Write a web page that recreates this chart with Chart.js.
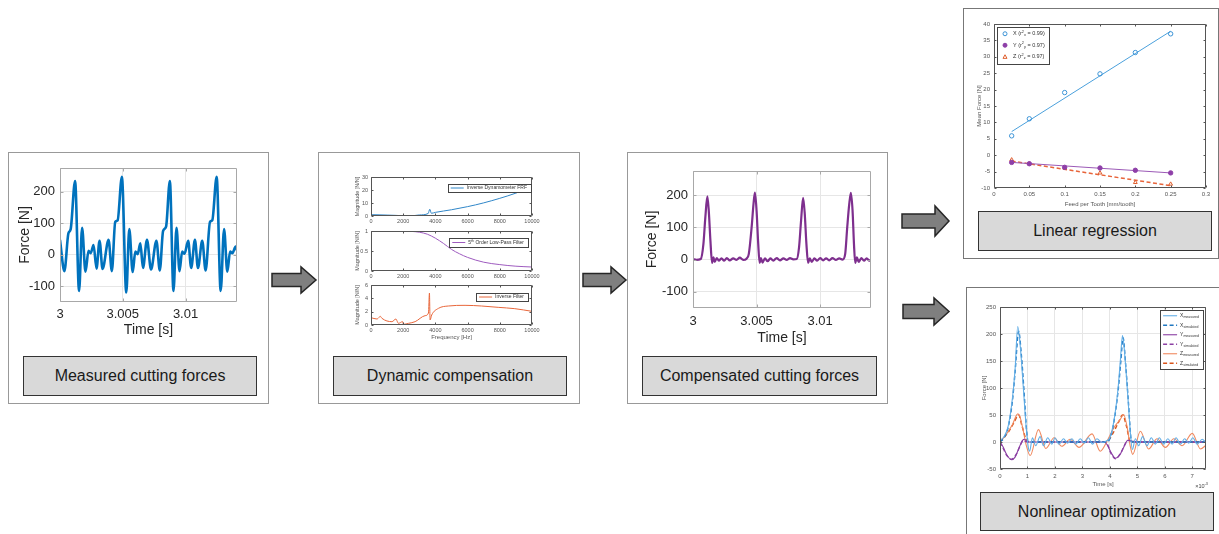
<!DOCTYPE html>
<html lang="en">
<head>
<meta charset="UTF-8" />
<title>Cutting force identification workflow</title>
<script src="https://cdn.jsdelivr.net/npm/chart.js"></script>
<style>
  body { margin: 0; background: #fff; font-family: 'Liberation Sans', Arial, sans-serif; }
  #page { position: relative; width: 1219px; height: 534px; overflow: hidden; background: #fff; }
  .panel { position: absolute; box-sizing: border-box; border: 1px solid #999; background: #fff; }
  .dark { border-color: #777; }
  .lbl { position: absolute; box-sizing: border-box; border: 1.5px solid #333; background: #d9d9d9;
         display: flex; align-items: center; justify-content: center; font-size: 16px; color: #1a1a1a; }
  .plot { position: absolute; }
  #arrows { position: absolute; left: 0; top: 0; }
</style>
</head>
<body>
<div id="page">
  <div class="panel" style="left:8px;top:152px;width:261px;height:252px"></div>
  <div class="panel" style="left:318px;top:152px;width:262px;height:252px"></div>
  <div class="panel" style="left:627px;top:152px;width:261px;height:252px"></div>
  <div class="panel dark" style="left:963px;top:8px;width:256px;height:251px"></div>
  <div class="panel dark" style="left:966px;top:287px;width:260px;height:260px"></div>

  <div class="lbl" style="left:23px;top:356px;width:234px;height:40px">Measured cutting forces</div>
  <div class="lbl" style="left:333px;top:356px;width:234px;height:40px">Dynamic compensation</div>
  <div class="lbl" style="left:642px;top:356px;width:235px;height:40px">Compensated cutting forces</div>
  <div class="lbl" style="left:978px;top:211px;width:234px;height:40px">Linear regression</div>
  <div class="lbl" style="left:980px;top:492px;width:234px;height:39px">Nonlinear optimization</div>

  <svg id="arrows" width="1219" height="534">
    <g fill="#7f7f7f" stroke="#262626" stroke-width="1.5" stroke-linejoin="miter">
      <polygon points="272,273.5 301,273.5 301,267 316,280 301,293 301,286.5 272,286.5" />
      <polygon points="583,273.5 611,273.5 611,267 626,280 611,293 611,286.5 583,286.5" />
      <polygon points="902,214 935,214 935,206 949,221 935,236 935,228 902,228" />
      <polygon points="903,304.5 934,304.5 934,298 949,311.5 934,325 934,318.5 903,318.5" />
    </g>
  </svg>

  <div class="plot" id="p1"><canvas></canvas></div>
  <div class="plot" id="p2a"><canvas></canvas></div>
  <div class="plot" id="p2b"><canvas></canvas></div>
  <div class="plot" id="p2c"><canvas></canvas></div>
  <div class="plot" id="p3"><canvas></canvas></div>
  <div class="plot" id="p4"><canvas></canvas></div>
  <div class="plot" id="p5"><canvas></canvas></div>
</div>

<script>
// ---- measured cutting force (s, N)
const tMeas = [3.00000,3.00035,3.00067,3.00085,3.00120,3.00152,3.00176,3.00203,3.00227,3.00245,3.00267,3.00291,3.00315,3.00339,3.00387,3.00413,3.00440,3.00459,3.00493,3.00528,3.00552,3.00579,3.00600,3.00619,3.00640,3.00661,3.00693,3.00725,3.00768,3.00795,3.00821,3.00845,3.00875,3.00904,3.00928,3.00952,3.00973,3.00992,3.01021,3.01045,3.01075,3.01099,3.01133,3.01160,3.01195,3.01213,3.01248,3.01280,3.01307,3.01333,3.01355,3.01373,3.01400,3.01413];
const fMeas = [47,-52,68,81,234,-115,85,-54,12,5,31,-44,44,-45,47,-52,104,109,247,-120,81,-55,10,2,36,-42,47,-47,44,-50,75,89,234,-115,85,-52,10,3,44,-42,47,-42,44,-50,104,109,247,-115,81,-54,10,5,26,10];

// ---- compensated cutting force (s, N)
const tComp = [3.00000,3.00026,3.00061,3.00082,3.00097,3.00113,3.00124,3.00137,3.00150,3.00161,3.00171,3.00187,3.00203,3.00224,3.00245,3.00266,3.00289,3.00316,3.00342,3.00368,3.00395,3.00421,3.00439,3.00461,3.00476,3.00487,3.00500,3.00513,3.00524,3.00534,3.00547,3.00566,3.00587,3.00608,3.00632,3.00658,3.00684,3.00711,3.00737,3.00763,3.00789,3.00816,3.00834,3.00850,3.00866,3.00879,3.00892,3.00905,3.00918,3.00934,3.00955,3.00976,3.01000,3.01024,3.01047,3.01071,3.01097,3.01124,3.01150,3.01176,3.01197,3.01213,3.01229,3.01242,3.01255,3.01266,3.01276,3.01289,3.01303,3.01324,3.01345,3.01366,3.01387,3.01403];
const fComp = [2,-1,2,49,131,196,152,59,-10,7,-7,5,-3,4,-3,5,-2,4,-1,6,-1,3,18,100,173,208,152,49,-10,5,-9,4,-5,4,-3,5,-2,4,-1,5,1,2,38,121,192,142,49,-10,4,-7,4,-3,5,-2,4,-2,5,-1,4,0,18,100,173,207,152,49,-10,7,-7,5,-3,4,-3,0];

const timeTicks = [3, 3.005, 3.01];
const timeLabels = ['3', '3.005', '3.01'];
const forceTicks = [-100, 0, 100, 200];
const forceLabels = ['-100', '0', '100', '200'];

// ---- dynamic compensation (Hz, N/N)
const freqTicks = [0, 2000, 4000, 6000, 8000, 10000];
const freqLabels = ['0', '2000', '4000', '6000', '8000', '10000'];
const fqFrf = [0,500,1000,1500,2000,2400,3000,3550,3650,3750,4000,5000,6000,7000,8000,9000,10000];
const magFrf = [1,0.9,0.7,0.5,0.2,0,0.8,1.9,5.2,2.1,2.8,4.8,7.2,10.1,13.6,17.6,22.5];
const fqLp = [0,1000,2000,2500,3000,3500,4000,4500,5000,5500,6000,7000,8000,9000,10000];
const magLp = [1,1,1,0.99,0.97,0.92,0.82,0.69,0.54,0.43,0.34,0.22,0.16,0.12,0.1];
const fqInv = [0,370,520,580,680,1300,1550,1620,1700,1960,2020,2330,2740,3360,3570,3630,3670,3770,4190,4800,5840,6870,7900,8930,10000];
const magInv = [1.1,0.9,1.2,1.3,1.0,0.5,0.9,0.6,0.25,0.5,0.1,0.25,0.5,1.4,1.8,4.8,0.75,1.5,2.5,2.85,2.95,2.85,2.65,2.45,2.05];

// ---- linear regression (mm/tooth, N)
const feed = [0.025, 0.05, 0.1, 0.15, 0.2, 0.25];
const meanX = [5.9, 11.1, 19.1, 24.8, 31.3, 37.0];
const meanY = [-2.2, -2.6, -3.7, -3.9, -4.6, -5.4];
const meanZ = [-1.4, -2.6, -3.9, -5.4, -8.3, -8.8];
const fitFeed = [0.025, 0.25];
const fitX = [7.2, 37.8];
const fitY = [-2.2, -5.4];
const fitZ = [-1.8, -9.3];
const feedTicks = [0, 0.05, 0.1, 0.15, 0.2, 0.25, 0.3];
const feedLabels = ['0', '0.05', '0.1', '0.15', '0.2', '0.25', '0.3'];
const meanTicks = [-10, -5, 0, 5, 10, 15, 20, 25, 30, 35, 40];
const meanLabels = ['-10', '-5', '0', '5', '10', '15', '20', '25', '30', '35', '40'];

// ---- nonlinear optimization (x10^-3 s, N)
const tXm = [0,0.15,0.3,0.45,0.55,0.645,0.75,0.85,0.95,1.03,1.08,1.18,1.30,1.46,1.58,1.74,1.89,2.0,2.15,2.31,2.46,2.62,2.76,2.92,3.07,3.22,3.37,3.53,3.71,3.87,4.0,4.15,4.3,4.38,4.46,4.56,4.66,4.75,4.82,4.93,5.05,5.19,5.35,5.51,5.66,5.80,5.96,6.11,6.27,6.41,6.57,6.72,6.87,7.02,7.18,7.36,7.5];
const vXm = [3,10,30,80,135,214,170,100,30,-10,-17,8,-7,10,-7,8,-4,8,-4,6,-2,6,-4,6,-2,8,-4,6,-1,2,8,40,100,150,197,150,80,15,-14,6,-7,10,-7,8,-4,8,-4,6,-4,8,-4,6,-2,8,-4,5,-1];
const tXs = [0,0.15,0.3,0.45,0.55,0.68,0.78,0.88,0.97,1.03,3.85,4.0,4.15,4.3,4.4,4.48,4.58,4.68,4.76,4.8,7.5];
const vXs = [0,8,28,75,130,205,160,90,20,0,0,6,38,95,150,193,140,70,10,0,0];
const tYm = [0,0.1,0.25,0.42,0.55,0.7,0.82,0.9,1.0,3.8,3.9,4.05,4.2,4.35,4.5,4.65,4.8,5.0,7.5];
const vYm = [0,-8,-24,-33,-28,-10,3,5,0,0,-5,-20,-30,-25,-10,3,2,0,0];
const tYs = [0,0.1,0.25,0.42,0.6,0.75,0.85,1.0,3.85,4.05,4.2,4.4,4.6,4.7,4.85,7.5];
const vYs = [0,-10,-25,-32,-22,-5,3,0,0,-22,-31,-20,0,3,0,0];
const tZm = [0,0.2,0.45,0.65,0.72,0.85,0.95,1.1,1.4,1.67,1.97,2.25,2.55,2.88,3.35,3.65,3.9,4.14,4.38,4.5,4.62,4.74,4.83,5.11,5.41,5.72,6.02,6.33,6.63,7.0,7.3,7.5];
const vZm = [0,12,32,52,48,20,-5,-25,23,-12,8,-8,5,-10,15,-17,2,26,42,51,30,-7,-23,20,-13,6,-10,6,-7,16,-13,-6];
const tZs = [0,0.3,0.5,0.68,0.8,0.95,1.05,3.85,4.1,4.3,4.47,4.6,4.75,7.5];
const vZs = [0,18,35,50,30,5,0,0,15,35,50,30,0,0];
const nlTimeTicks = [0, 1, 2, 3, 4, 5, 6, 7];
const nlTimeLabels = ['0', '1', '2', '3', '4', '5', '6', '7'];
const nlForceTicks = [-50, 0, 50, 100, 150, 200, 250];
const nlForceLabels = ['-50', '0', '50', '100', '150', '200', '250'];

const FONT = "'Liberation Sans', Arial, Helvetica, sans-serif";
Chart.defaults.font.family = FONT;

const xy = (xs, ys) => xs.map((x, i) => ({ x, y: ys[i] }));

// text with _{sub} and ^{sup}
function richParts(s) {
  const out = [], re = /([_^])\{([^}]*)\}/g;
  let last = 0, m;
  while ((m = re.exec(s))) {
    if (m.index > last) out.push({ t: s.slice(last, m.index), m: 0 });
    out.push({ t: m[2], m: m[1] === '_' ? 1 : 2 });
    last = re.lastIndex;
  }
  if (last < s.length) out.push({ t: s.slice(last), m: 0 });
  return out;
}
function richText(ctx, s, x, y, size, draw) {
  let w = 0;
  for (const p of richParts(s)) {
    const fs = p.m ? size * 0.7 : size;
    ctx.font = fs + 'px ' + FONT;
    const dy = p.m === 1 ? size * 0.3 : p.m === 2 ? -size * 0.35 : 0;
    if (draw) ctx.fillText(p.t, x + w, y + dy);
    w += ctx.measureText(p.t).width;
  }
  return w;
}

// box around the axes with inward ticks (matlab style)
const framePlugin = {
  id: 'frame',
  afterDatasetsDraw(chart, args, o) {
    if (!o || !o.color) return;
    const { ctx, chartArea: a, scales: { x, y } } = chart;
    const L = Math.round(a.left) + .5, R = Math.round(a.right) - .5;
    const T = Math.round(a.top) + .5, B = Math.round(a.bottom) - .5;
    const k = o.tick || 0;
    ctx.save();
    ctx.strokeStyle = o.color;
    ctx.lineWidth = 1;
    ctx.beginPath();
    ctx.rect(L, T, R - L, B - T);
    x.ticks.forEach(t => {
      const p = Math.round(x.getPixelForValue(t.value)) + .5;
      ctx.moveTo(p, B); ctx.lineTo(p, B - k);
      ctx.moveTo(p, T); ctx.lineTo(p, T + k);
    });
    y.ticks.forEach(t => {
      const p = Math.round(y.getPixelForValue(t.value)) + .5;
      ctx.moveTo(L, p); ctx.lineTo(L + k, p);
      ctx.moveTo(R, p); ctx.lineTo(R - k, p);
    });
    ctx.stroke();
    if (o.note) {
      ctx.fillStyle = o.noteColor || '#444';
      ctx.textBaseline = 'middle';
      const w = richText(ctx, o.note, 0, 0, o.noteSize, false);
      richText(ctx, o.note, a.right - w + 2, a.bottom + o.noteDy, o.noteSize, true);
    }
    ctx.restore();
  }
};

function marker(ctx, style, cx, cy, r) {
  ctx.beginPath();
  if (style === 'triangle') {
    ctx.moveTo(cx, cy - r); ctx.lineTo(cx + r, cy + r * .8); ctx.lineTo(cx - r, cy + r * .8); ctx.closePath();
  } else {
    ctx.arc(cx, cy, r, 0, Math.PI * 2);
  }
}

// legend drawn inside the axes, in a bordered box
const boxLegend = {
  id: 'boxLegend',
  afterDraw(chart, args, o) {
    if (!o || !o.items) return;
    const { ctx, chartArea: a } = chart;
    const ds = chart.data.datasets;
    ctx.save();
    ctx.textBaseline = 'middle';
    const tw = Math.max(...o.items.map(i => richText(ctx, ds[i].label, 0, 0, o.size, false)));
    const w = o.sample + 6 + tw + 4, h = o.row * o.items.length + 2;
    const x = o.align === 'left' ? a.left + o.dx : a.right - o.dx - w;
    const y = a.top + o.dy;
    ctx.fillStyle = '#fff';
    ctx.fillRect(x, y, w, h);
    ctx.strokeStyle = '#444';
    ctx.lineWidth = 1;
    ctx.strokeRect(Math.round(x) + .5, Math.round(y) + .5, Math.round(w), Math.round(h));
    o.items.forEach((i, k) => {
      const d = ds[i];
      const cy = y + 1 + o.row * (k + .5);
      const sx = x + 3;
      if (d.showLine === false) {
        marker(ctx, d.pointStyle, sx + o.sample / 2, cy, 2);
        ctx.fillStyle = d.pointBackgroundColor; ctx.fill();
        ctx.strokeStyle = d.pointBorderColor; ctx.lineWidth = 1; ctx.stroke();
      } else {
        ctx.strokeStyle = d.borderColor;
        ctx.lineWidth = d.borderWidth || 1;
        ctx.setLineDash(d.borderDash || []);
        ctx.beginPath(); ctx.moveTo(sx, cy); ctx.lineTo(sx + o.sample, cy); ctx.stroke();
        ctx.setLineDash([]);
      }
      ctx.fillStyle = '#333';
      richText(ctx, d.label, sx + o.sample + 3, cy, o.size, true);
    });
    ctx.restore();
  }
};

Chart.register(framePlugin, boxLegend);

function axis(o) {
  return {
    type: 'linear', min: o.min, max: o.max,
    afterBuildTicks: s => { s.ticks = o.ticks.map(v => ({ value: v })); },
    afterFit: s => { if (s.isHorizontal()) s.height = o.size; else s.width = o.size; },
    ticks: { callback: (v, i) => o.labels[i], font: { size: o.font }, color: o.color || '#262626',
             padding: o.pad, maxRotation: 0, autoSkip: false },
    grid: { display: !!o.grid, color: o.grid, drawTicks: false },
    border: { display: false },
    title: { display: !!o.title, text: o.title, font: { size: o.tfont }, color: o.color || '#262626',
             padding: o.tpad || 0 }
  };
}

// area = plot box in page pixels [l, t, r, b]; m = margins [l, t, r, b]
function plot(id, area, m, datasets, x, y, plugins) {
  const el = document.getElementById(id);
  el.style.left = (area[0] - m[0]) + 'px';
  el.style.top = (area[1] - m[1]) + 'px';
  el.style.width = (area[2] - area[0] + m[0] + m[2]) + 'px';
  el.style.height = (area[3] - area[1] + m[1] + m[3]) + 'px';
  x.size = m[3];
  y.size = m[0];
  return new Chart(el.querySelector('canvas'), {
    type: 'line',
    data: { datasets },
    options: {
      responsive: true, maintainAspectRatio: false, animation: false,
      layout: { padding: { left: 0, top: m[1], right: m[2], bottom: 0 } },
      elements: { point: { radius: 0 }, line: { borderWidth: 1, cubicInterpolationMode: 'monotone' } },
      scales: { x: axis(x), y: axis(y) },
      plugins: Object.assign({ legend: { display: false }, tooltip: { enabled: false } }, plugins)
    }
  });
}

const line = (label, xs, ys, color, width, dash) => ({
  label, data: xy(xs, ys), borderColor: color, backgroundColor: color,
  borderWidth: width, borderDash: dash || [], fill: false, pointRadius: 0
});
const dots = (label, xs, ys, color, style, filled) => ({
  label, data: xy(xs, ys), showLine: false, pointStyle: style, pointRadius: 2.2,
  pointBorderColor: color, pointBackgroundColor: filled ? color : 'rgba(255,255,255,0)',
  pointBorderWidth: 1, borderColor: color
});

// ---- measured cutting forces
plot('p1', [60, 168, 237, 302], [48, 14, 15, 38],
  [line('Fx', tMeas, fMeas, '#0072BD', 2.6)],
  { min: 3, max: 3.0141, ticks: timeTicks, labels: timeLabels, font: 13, pad: 5, grid: '#e6e6e6',
    title: 'Time [s]', tfont: 14, tpad: { top: 0, bottom: 1.6 } },
  { min: -150, max: 275, ticks: forceTicks, labels: forceLabels, font: 13, pad: 5, grid: '#e6e6e6',
    title: 'Force [N]', tfont: 14, tpad: { top: 4.6, bottom: 0 } },
  { frame: { color: '#a8a8a8', tick: 3 } });

// ---- dynamic compensation, three stacked axes
const small = { font: 5.5, color: '#555' };
plot('p2a', [371, 177, 532, 216], [19, 8, 12, 10],
  [line('Inverse Dynamometer FRF', fqFrf, magFrf, '#2f86c8', 1)],
  Object.assign({ min: 0, max: 10000, ticks: freqTicks, labels: freqLabels, pad: 2 }, small),
  Object.assign({ min: 0, max: 30, ticks: [0, 10, 20, 30], labels: ['0', '10', '20', '30'], pad: 3,
    title: 'Magnitude [N/N]', tfont: 5.5, tpad: { top: 2, bottom: 0 } }, small),
  { frame: { color: '#555', tick: 2 },
    boxLegend: { items: [0], align: 'right', dx: 1, dy: 7, size: 5, row: 6, sample: 13 } });

plot('p2b', [371, 231, 532, 271], [19, 8, 12, 10],
  [line('5^{th} Order Low-Pass Filter', fqLp, magLp, '#9e5bbf', 1)],
  Object.assign({ min: 0, max: 10000, ticks: freqTicks, labels: freqLabels, pad: 2 }, small),
  Object.assign({ min: 0, max: 1, ticks: [0, 0.5, 1], labels: ['0', '0.5', '1'], pad: 3,
    title: 'Magnitude [N/N]', tfont: 5.5, tpad: { top: 2, bottom: 0 } }, small),
  { frame: { color: '#555', tick: 2 },
    boxLegend: { items: [0], align: 'right', dx: 4, dy: 7, size: 5, row: 7, sample: 13 } });

plot('p2c', [371, 285, 532, 325], [19, 8, 12, 16],
  [line('Inverse Filter', fqInv, magInv, '#e8663a', 1)],
  Object.assign({ min: 0, max: 10000, ticks: freqTicks, labels: freqLabels, pad: 2,
    title: 'Frequency [Hz]', tfont: 6, tpad: { top: 0, bottom: 0 } }, small),
  Object.assign({ min: 0, max: 6, ticks: [0, 2, 4, 6], labels: ['0', '2', '4', '6'], pad: 3,
    title: 'Magnitude [N/N]', tfont: 5.5, tpad: { top: 2, bottom: 0 } }, small),
  { frame: { color: '#555', tick: 2 },
    boxLegend: { items: [0], align: 'right', dx: 4, dy: 8, size: 5, row: 6, sample: 13 } });

// ---- compensated cutting forces
plot('p3', [693, 171, 871, 308], [55, 14, 12, 40],
  [line('Fx', tComp, fComp, '#7E2F8E', 2.2)],
  { min: 3, max: 3.0140, ticks: timeTicks, labels: timeLabels, font: 13, pad: 6, grid: '#e6e6e6',
    title: 'Time [s]', tfont: 14, tpad: { top: 0, bottom: 1.6 } },
  { min: -150, max: 275, ticks: forceTicks, labels: forceLabels, font: 13, pad: 5, grid: '#e6e6e6',
    title: 'Force [N]', tfont: 14, tpad: { top: 5.3, bottom: 0 } },
  { frame: { color: '#a8a8a8', tick: 3 } });

// ---- linear regression
plot('p4', [994, 24, 1206, 188], [24, 8, 10, 20],
  [
    dots('X (r^{2}_{x} = 0.99)', feed, meanX, '#3b93d6', 'circle', false),
    line('fit X', fitFeed, fitX, '#4aa0dc', 1),
    dots('Y (r^{2}_{y} = 0.97)', feed, meanY, '#8e3fa8', 'circle', true),
    line('fit Y', fitFeed, fitY, '#9b59b6', 1),
    dots('Z (r^{2}_{z} = 0.97)', feed, meanZ, '#e0602f', 'triangle', false),
    line('fit Z', fitFeed, fitZ, '#e8643a', 1.5, [4, 2.5])
  ],
  Object.assign({ min: 0, max: 0.3, ticks: feedTicks, labels: feedLabels, pad: 2.4,
    title: 'Feed per Tooth [mm/tooth]', tfont: 6, tpad: { top: 0, bottom: 0.4 } }, small, { font: 6 }),
  Object.assign({ min: -10, max: 40, ticks: meanTicks, labels: meanLabels, pad: 4,
    title: 'Mean Force [N]', tfont: 6, tpad: { top: 5.4, bottom: 0 } }, small, { font: 6 }),
  { frame: { color: '#555', tick: 2 },
    boxLegend: { items: [0, 2, 4], align: 'left', dx: 3, dy: 3, size: 5.5, row: 11.5, sample: 10 } });

// ---- nonlinear optimization
plot('p5', [1000, 307, 1206, 469], [25, 8, 10, 19],
  [
    line('X_{measured}', tXm, vXm, '#62aee6', 1.1),
    line('X_{simulated}', tXs, vXs, '#1f77c0', 1.4, [4, 2.5]),
    line('Y_{measured}', tYm, vYm, '#8b3fa3', 1.1),
    line('Y_{simulated}', tYs, vYs, '#8b3fa3', 1.4, [4, 2.5]),
    line('Z_{measured}', tZm, vZm, '#f08a60', 1.1),
    line('Z_{simulated}', tZs, vZs, '#d95319', 1.4, [4, 2.5])
  ],
  Object.assign({ min: 0, max: 7.5, ticks: nlTimeTicks, labels: nlTimeLabels, pad: 4, grid: '#e6e6e6',
    title: 'Time [s]', tfont: 6, tpad: { top: 0, bottom: 0.4 } }, small, { font: 6 }),
  Object.assign({ min: -50, max: 250, ticks: nlForceTicks, labels: nlForceLabels, pad: 4, grid: '#e6e6e6',
    title: 'Force [N]', tfont: 6, tpad: { top: 5.4, bottom: 0 } }, small, { font: 6 }),
  { frame: { color: '#555', tick: 2, note: '\u00d710^{-3}', noteSize: 5.5, noteDy: 17 },
    boxLegend: { items: [0, 1, 2, 3, 4, 5], align: 'right', dx: 3, dy: 3, size: 5, row: 9.5, sample: 14 } });
</script>
</body>
</html>
